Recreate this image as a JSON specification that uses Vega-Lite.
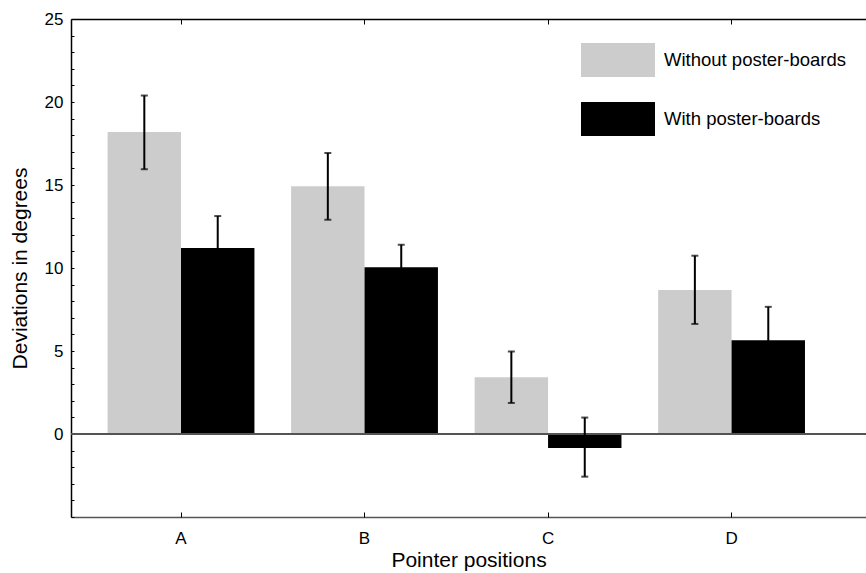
{
  "$schema": "https://vega.github.io/schema/vega-lite/v6.json",
  "width": 795,
  "height": 498,
  "autosize": {"type": "none"},
  "padding": {"left": 71, "top": 19, "right": 0, "bottom": 56},
  "config": {
    "view": {"stroke": null},
    "font": "Liberation Sans",
    "axis": {"grid": false, "labelFont": "Liberation Sans", "titleFont": "Liberation Sans", "labelColor": "#000", "titleColor": "#000", "titleFontWeight": "normal"},
    "legend": {"labelFont": "Liberation Sans"}
  },
  "data": {
    "values": [
      {"position": "A", "group": "Without poster-boards", "value": 18.2, "lo": 15.95, "hi": 20.39},
      {"position": "A", "group": "With poster-boards", "value": 11.2, "lo": 9.27, "hi": 13.13},
      {"position": "B", "group": "Without poster-boards", "value": 14.93, "lo": 12.91, "hi": 16.93},
      {"position": "B", "group": "With poster-boards", "value": 10.05, "lo": 8.7, "hi": 11.4},
      {"position": "C", "group": "Without poster-boards", "value": 3.42, "lo": 1.87, "hi": 4.97},
      {"position": "C", "group": "With poster-boards", "value": -0.84, "lo": -2.57, "hi": 0.99},
      {"position": "D", "group": "Without poster-boards", "value": 8.67, "lo": 6.63, "hi": 10.74},
      {"position": "D", "group": "With poster-boards", "value": 5.65, "lo": 3.64, "hi": 7.66}
    ]
  },
  "resolve": {"axis": {"x": "independent", "y": "independent"}},
  "layer": [
    {
      "mark": {"type": "bar"},
      "encoding": {
        "x": {
          "field": "position", "type": "nominal",
          "scale": {"paddingInner": 0.2, "paddingOuter": 0.266, "align": 0.375},
          "axis": {"orient": "bottom", "title": "Pointer positions", "labelAngle": 0, "labelFontSize": 17, "titleFontSize": 21, "domainColor": "#555555", "domainWidth": 1.5, "ticks": false, "labelPadding": 13, "titlePadding": 3}
        },
        "xOffset": {"field": "group", "type": "nominal", "scale": {"domain": ["Without poster-boards", "With poster-boards"], "paddingInner": 0}},
        "y": {
          "field": "value", "type": "quantitative",
          "scale": {"domain": [-5, 25], "nice": false, "zero": false},
          "axis": {"title": "Deviations in degrees", "titleFontSize": 21, "labelFontSize": 17, "values": [0, 5, 10, 15, 20, 25], "domainColor": "#000", "domainWidth": 1.5, "ticks": false, "labelPadding": 8, "titlePadding": 14, "labelFlush": false, "labelOverlap": false}
        },
        "color": {
          "field": "group", "type": "nominal",
          "scale": {"domain": ["Without poster-boards", "With poster-boards"], "range": ["#cccccc", "#000000"]},
          "legend": {"title": null, "orient": "none", "legendX": 510, "legendY": 4, "padding": 0, "symbolType": "M-1,-0.46L1,-0.46L1,0.46L-1,0.46Z", "symbolSize": 5476, "symbolStrokeWidth": 0, "symbolOpacity": 1, "labelFontSize": 18.5, "labelOffset": 9, "rowPadding": 4, "labelColor": "#000", "labelLimit": 400}
        }
      }
    },
    {
      "mark": {"type": "rule", "opacity": 0},
      "encoding": {
        "x": {"field": "position", "type": "nominal", "axis": {"orient": "bottom", "title": null, "labels": false, "domain": false, "ticks": true, "tickColor": "#000", "tickSize": 5, "tickWidth": 1, "offset": -5}},
        "y": {"field": "value", "type": "quantitative", "axis": {"orient": "left", "title": null, "labels": false, "domain": false, "ticks": true, "tickColor": "#000", "tickSize": 3, "tickWidth": 1, "offset": -3, "values": [-5,-4,-3,-2,-1,0,1,2,3,4,5,6,7,8,9,10,11,12,13,14,15,16,17,18,19,20,21,22,23,24,25]}}
      }
    },
    {
      "mark": {"type": "rule", "opacity": 0},
      "encoding": {
        "x": {"field": "position", "type": "nominal", "axis": {"orient": "top", "title": null, "labels": false, "domain": true, "domainColor": "#000", "domainWidth": 1.5, "ticks": false}}
      }
    },
    {
      "mark": {"type": "rule", "opacity": 0},
      "encoding": {
        "x": {"field": "position", "type": "nominal", "axis": {"orient": "top", "title": null, "labels": false, "domain": false, "ticks": true, "tickColor": "#000", "tickSize": 5, "tickWidth": 1, "offset": -5}}
      }
    },
    {
      "mark": {"type": "rule", "color": "#555555", "strokeWidth": 1.5},
      "encoding": {"y": {"datum": 0, "type": "quantitative", "axis": null}}
    },
    {
      "mark": {"type": "rule", "color": "#000", "strokeWidth": 2},
      "encoding": {
        "x": {"field": "position", "type": "nominal", "axis": null},
        "xOffset": {"field": "group", "type": "nominal"},
        "y": {"field": "lo", "type": "quantitative", "axis": null},
        "y2": {"field": "hi"}
      }
    },
    {
      "mark": {"type": "tick", "orient": "horizontal", "color": "#000", "size": 7, "thickness": 2},
      "encoding": {
        "x": {"field": "position", "type": "nominal", "axis": null},
        "xOffset": {"field": "group", "type": "nominal"},
        "y": {"field": "hi", "type": "quantitative", "axis": null}
      }
    },
    {
      "mark": {"type": "tick", "orient": "horizontal", "color": "#000", "size": 7, "thickness": 2},
      "encoding": {
        "x": {"field": "position", "type": "nominal", "axis": null},
        "xOffset": {"field": "group", "type": "nominal"},
        "y": {"field": "lo", "type": "quantitative", "axis": null}
      }
    }
  ]
}
